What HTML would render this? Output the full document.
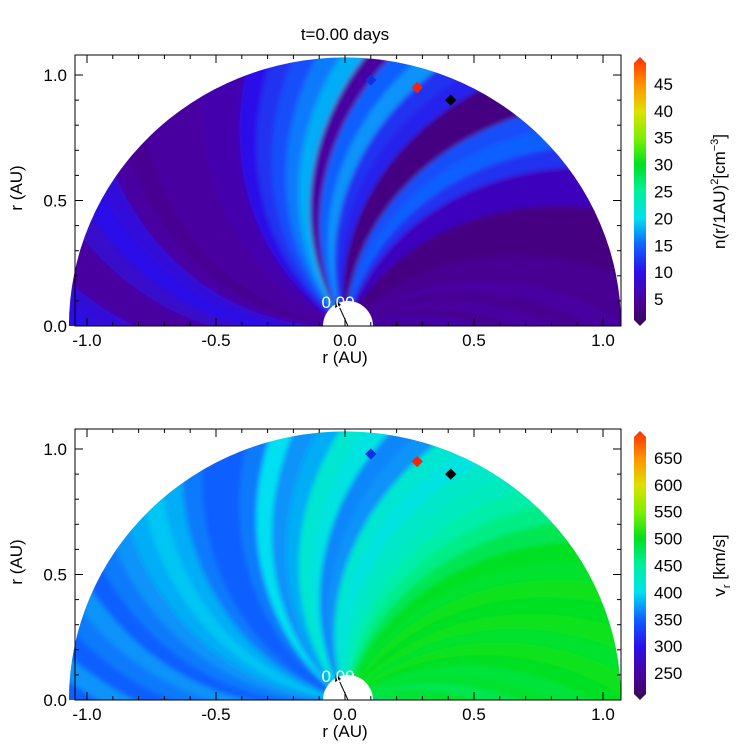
<!DOCTYPE html>
<html><head><meta charset="utf-8"><style>
html,body{margin:0;padding:0;background:#fff;overflow:hidden;width:750px;height:750px;}
svg{display:block;}
svg text{font-family:"Liberation Sans",sans-serif;}
</style></head><body>
<svg id="s" width="750" height="750" viewBox="0 0 750 750">
<defs>
<linearGradient id="cg" x1="0" y1="1" x2="0" y2="0">
<stop offset="0" stop-color="#3a0a55"/><stop offset="0.1" stop-color="#4a00a0"/><stop offset="0.2" stop-color="#2a10e8"/>
<stop offset="0.3" stop-color="#1060ff"/><stop offset="0.4" stop-color="#00e0f0"/><stop offset="0.5" stop-color="#00f0a0"/>
<stop offset="0.6" stop-color="#00e020"/><stop offset="0.7" stop-color="#80f000"/><stop offset="0.8" stop-color="#e0e000"/>
<stop offset="0.9" stop-color="#ff9000"/><stop offset="1" stop-color="#ff3000"/>
</linearGradient>
<filter id="bl" x="-5%" y="-5%" width="110%" height="110%"><feGaussianBlur stdDeviation="2.5"/></filter>
</defs>
</svg>
<script>
const bandStarts=[0,5,10,15,20,25,30,35,40,45,50,55,60,65,70,75,80,85,90,95,100,105,110,115,120,125,130,135,140,145,150,155,160,165,170,175,180,185,190,195,200,205,210,215];
const densityValues=[5,4,6,4,5,4,5,4,4,3,3,3,7,7,12,15,14,3,3,11,12,17,15,5,18,16,14,12,10,6,6,5,5,5,4,5,9,10,8,5,5,9,10,8];
const speedValues=[480,490,495,480,495,490,500,505,495,505,500,505,495,500,480,460,445,430,425,410,420,370,365,410,420,380,370,400,360,350,350,360,380,390,380,370,360,350,370,360,350,370,350,360];
const densityTicks=[5,10,15,20,25,30,35,40,45];
const speedTicks=[250,300,350,400,450,500,550,600,650];
const xTicks=[-1.0,-0.5,0.0,0.5,1.0];
const yTicks=[0.0,0.5,1.0];
const satX=[0.10,0.28,0.41], satY=[0.98,0.95,0.90], satC=['#1030e0','#ff2000','#000'];
const NS='http://www.w3.org/2000/svg', svg=document.getElementById('s');
const stops=[[0,58,10,85],[0.1,74,0,160],[0.2,42,16,232],[0.3,16,96,255],[0.4,0,224,240],[0.5,0,240,160],[0.6,0,224,32],[0.7,128,240,0],[0.8,224,224,0],[0.9,255,144,0],[1,255,48,0]];
function cmap(t){t=Math.max(0,Math.min(1,t));for(let i=1;i<stops.length;i++){if(t<=stops[i][0]){const a=stops[i-1],b=stops[i],f=(t-a[0])/(b[0]-a[0]);return `rgb(${[1,2,3].map(k=>Math.round(a[k]+(b[k]-a[k])*f)).join(',')})`;}}return 'rgb(255,48,0)';}
function mk(tag,attrs,parent){const e=document.createElementNS(NS,tag);for(const k in attrs)e.setAttribute(k,attrs[k]);(parent||svg).appendChild(e);return e;}
function panel(id,y0,values,vmin,vmax,ticks,label){
  const cx=345,ppx=258,ppy=251,cy=y0;
  const X=v=>cx+v*ppx, Y=v=>cy-v*ppy;
  const L=75,R=621,T=cy-271;
  const rx=1.07*ppx, ry=1.07*ppy;
  const cp=mk('clipPath',{id:'c'+id});mk('path',{d:`M${cx-rx} ${cy} A${rx} ${ry} 0 0 1 ${cx+rx} ${cy} Z`},cp);
  const outer=mk('g',{'clip-path':`url(#c${id})`});
  const g=mk('g',{filter:'url(#bl)'},outer);
  
  mk('rect',{x:L-20,y:T-20,width:R-L+40,height:cy-T+40,fill:cmap((values[values.length-1]-vmin)/(vmax-vmin))},g);
  const k=0.6, step=5;
  bandStarts.forEach((a0,i)=>{
    const pts=[];
    for(let j=0;j<=24;j++){const r=0.02+j*1.1/24;const th=(a0-0.5)*Math.PI/180-k*(r-0.1);pts.push([X(r*Math.cos(th)),Y(r*Math.sin(th))]);}
    for(let j=24;j>=0;j--){const r=0.02+j*1.1/24;const th=(a0+step+0.5)*Math.PI/180-k*(r-0.1);pts.push([X(r*Math.cos(th)),Y(r*Math.sin(th))]);}
    const p=mk('polygon',{points:pts.map(q=>q[0].toFixed(1)+','+q[1].toFixed(1)).join(' '),fill:cmap((values[i]-vmin)/(vmax-vmin))},g);
    
    
  });
  mk('ellipse',{cx:348,cy:cy,rx:25,ry:25,fill:'#fff'},outer);
  mk('line',{x1:348,y1:cy,x2:338,y2:cy-22,stroke:'#000','stroke-width':1});
  mk('path',{d:`M336 ${cy-26} l-1 8 l6 -3z`,fill:'#000'});
  const t0=mk('text',{x:338,y:cy-18,'font-size':17,fill:'#fff','text-anchor':'middle'});t0.textContent='0.00';
  satX.forEach((sx,i)=>{const d=mk('rect',{x:X(sx)-4,y:Y(satY[i])-4,width:8,height:8,fill:satC[i],transform:`rotate(45 ${X(sx)} ${Y(satY[i])})`});
    });
  const fr=mk('rect',{x:L,y:T,width:R-L,height:cy-T,fill:'none',stroke:'#000','stroke-width':1});
  
  for(let v=-1.0;v<=1.05;v+=0.1){const x=X(v),mj=Math.abs(v*2-Math.round(v*2))<0.01,l=mj?8:4;
    mk('line',{x1:x,y1:cy,x2:x,y2:cy-l,stroke:'#000'});mk('line',{x1:x,y1:T,x2:x,y2:T+l,stroke:'#000'});}
  for(let v=0;v<=1.05;v+=0.1){const y=Y(v),mj=Math.abs(v*2-Math.round(v*2))<0.01,l=mj?8:4;
    mk('line',{x1:L,y1:y,x2:L+l,y2:y,stroke:'#000'});mk('line',{x1:R,y1:y,x2:R-l,y2:y,stroke:'#000'});}
  xTicks.forEach(v=>{const t=mk('text',{x:X(v),y:cy+20,'font-size':17,'text-anchor':'middle'});t.textContent=v.toFixed(1);
    });
  yTicks.forEach(v=>{const t=mk('text',{x:L-8,y:Y(v)+6,'font-size':17,'text-anchor':'end'});t.textContent=v.toFixed(1);
    });
  const xt=mk('text',{x:345,y:cy+37,'font-size':17,'text-anchor':'middle'});xt.textContent='r (AU)';
  
  const yt=mk('text',{x:0,y:0,'font-size':17,'text-anchor':'middle',transform:`translate(22 ${Y(0.55)}) rotate(-90)`});yt.textContent='r (AU)';
  
  const cbT=T+2,cbB=cy,vs=v=>cbB-(v-vmin)/(vmax-vmin)*(cbB-cbT);
  const cb=mk('path',{d:`M634 ${cbT+6} L640 ${cbT} L646 ${cbT+6} L646 ${cbB-6} L640 ${cbB} L634 ${cbB-6}Z`,fill:'url(#cg)'});
  
  ticks.forEach(v=>{const t=mk('text',{x:654,y:vs(v)+6,'font-size':17});t.textContent=v;
    });
  const ct=mk('text',{x:0,y:0,'font-size':17,'text-anchor':'middle',transform:`translate(725 ${(cbT+cbB)/2}) rotate(-90)`});ct.innerHTML=label;
  
}
panel('density-panel',326,densityValues,0,50,densityTicks,'n(r/1AU)<tspan dy="-7" font-size="11">2</tspan><tspan dy="7">[cm</tspan><tspan dy="-7" font-size="11">−3</tspan><tspan dy="7">]</tspan>');
panel('speed-panel',700,speedValues,200,700,speedTicks,'v<tspan dy="5" font-size="11">r</tspan><tspan dy="-5"> [km/s]</tspan>');
const tt=mk('text',{x:345,y:40,'font-size':17,'text-anchor':'middle'});tt.textContent='t=0.00 days';


</script>
</body></html>
